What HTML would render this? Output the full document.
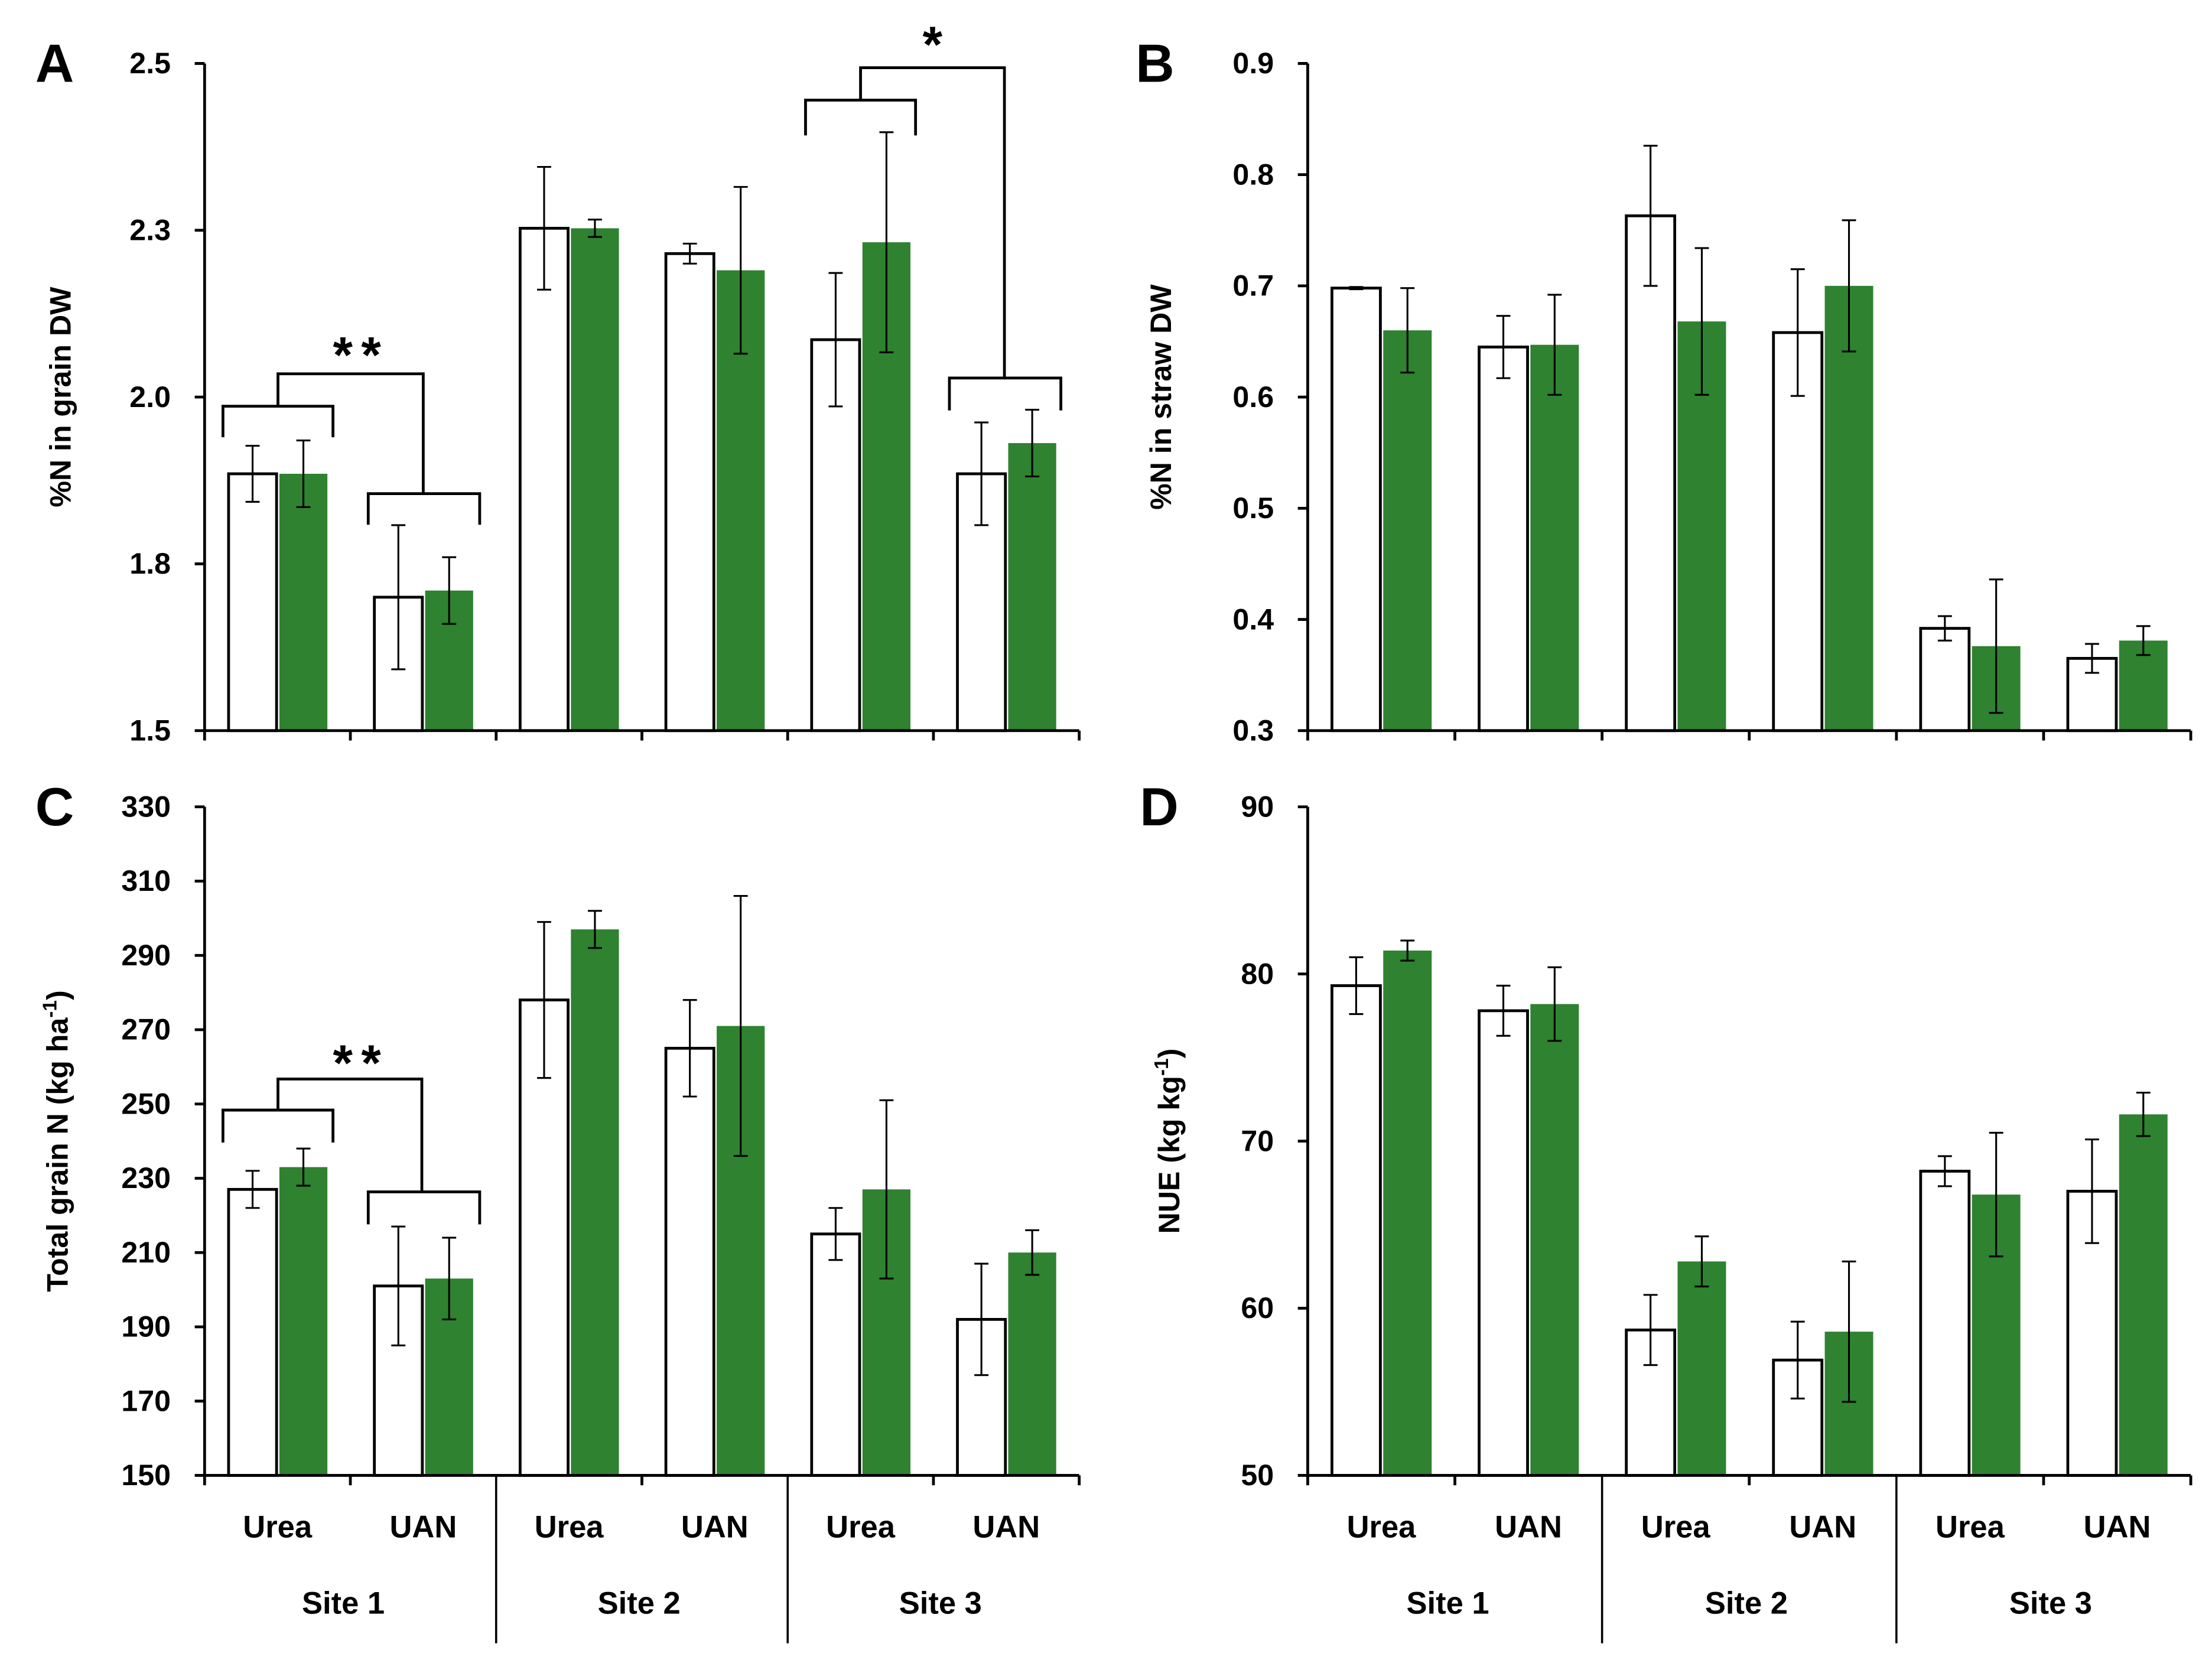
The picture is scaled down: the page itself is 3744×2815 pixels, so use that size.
<!DOCTYPE html>
<html><head><meta charset="utf-8"><style>
html,body{margin:0;padding:0;background:#fff;}
svg{display:block;font-family:"Liberation Sans",sans-serif;}
</style></head><body>
<svg id="chart" width="3744" height="2815" viewBox="0 0 1568 1179" xmlns="http://www.w3.org/2000/svg">
<rect width="1568" height="1179" fill="#fff"/>
</svg>
<script>
const categories = ["Urea","UAN","Urea","UAN","Urea","UAN"];
const sites = ["Site 1","Site 2","Site 3"];
const aWhite=[1.885,1.70,2.253,2.215,2.086,1.885], aWhiteErr=[0.042,0.108,0.092,0.015,0.1,0.077];
const aGreen=[1.885,1.71,2.253,2.19,2.232,1.931], aGreenErr=[0.05,0.05,0.013,0.125,0.165,0.05];
const bWhite=[0.698,0.645,0.763,0.658,0.392,0.365], bWhiteErr=[0.001,0.028,0.063,0.057,0.011,0.013];
const bGreen=[0.66,0.647,0.668,0.70,0.376,0.381], bGreenErr=[0.038,0.045,0.066,0.059,0.06,0.013];
const cWhite=[227,201,278,265,215,192], cWhiteErr=[5,16,21,13,7,15];
const cGreen=[233,203,297,271,227,210], cGreenErr=[5,11,5,35,24,6];
const dWhite=[79.3,77.8,58.7,56.9,68.2,67.0], dWhiteErr=[1.7,1.5,2.1,2.3,0.9,3.1];
const dGreen=[81.4,78.2,62.8,58.6,66.8,71.6], dGreenErr=[0.6,2.2,1.5,4.2,3.7,1.3];
const aTicks=[1.5,1.75,2.0,2.25,2.5], aTickLabels=["1.5","1.8","2.0","2.3","2.5"];
const bTicks=[0.3,0.4,0.5,0.6,0.7,0.8,0.9], bTickLabels=["0.3","0.4","0.5","0.6","0.7","0.8","0.9"];
const cTicks=[150,170,190,210,230,250,270,290,310,330], cTickLabels=cTicks.map(String);
const dTicks=[50,60,70,80,90], dTickLabels=dTicks.map(String);

const NS="http://www.w3.org/2000/svg", svg=document.getElementById('chart');
const GREEN="#2e8230";
function el(tag,attrs,parent,text){const e=document.createElementNS(NS,tag);for(const k in attrs)e.setAttribute(k,attrs[k]);if(text!==undefined)e.textContent=text;(parent||svg).appendChild(e);return e;}

function panel(key,x0,x1,yTop,yBot,min,max,ticks,tickLabels,white,whiteErr,green,greenErr,letter,lx,ly,title,tx,sup,bottom){
  const g=el('g',{});
  
  
  const y=v=>yBot-(v-min)/(max-min)*(yBot-yTop);
  const gw=(x1-x0)/6;
  const xb=i=>x0+i*gw;
  for(let i=0;i<6;i++){
    [[white,whiteErr,'#fff',17,'white'],[green,greenErr,GREEN,53,'green']].forEach(([vals,errs,fill,off,nm])=>{
      const v=vals[i],bx=xb(i)+off*gw/103.3,bw=34*gw/103.3;
      const r=el('rect',{x:bx,y:y(v),width:bw,height:yBot-y(v),fill:fill,stroke:'#000','stroke-width':fill==='#fff'?2:0},g);
      
      
      const cx=bx+bw/2,e=errs[i];
      const p=el('path',{d:`M${cx} ${y(v+e)}V${y(v-e)}M${cx-5} ${y(v+e)}H${cx+5}M${cx-5} ${y(v-e)}H${cx+5}`,stroke:'#000','stroke-width':1.3,fill:'none'},g);
      
      
    });
  }
  const ax=el('path',{d:`M${x0} ${yTop}V${yBot}H${x1}`,stroke:'#000','stroke-width':2,fill:'none'},g);
  
  
  ticks.forEach((t,i)=>{
    el('line',{x1:x0-7,x2:x0,y1:y(t),y2:y(t),stroke:'#000','stroke-width':2},g);
    const tl=el('text',{x:x0-24,y:y(t)+7,'text-anchor':'end','font-size':21,'font-weight':'bold'},g,tickLabels[i]);
    
    
  });
  for(let i=0;i<=6;i++){
    const sep=bottom&&(i===2||i===4);
    el('line',{x1:xb(i),x2:xb(i),y1:yBot,y2:sep?1165:yBot+7,stroke:'#000','stroke-width':sep?1.5:2},g);
  }
  if(bottom){
    categories.forEach((c,i)=>{
      const t=el('text',{x:xb(i)+gw/2,y:1090,'text-anchor':'middle','font-size':22,'font-weight':'bold'},g,c);
      
      
    });
    sites.forEach((s,i)=>{
      const t=el('text',{x:xb(2*i)+gw+(i===0?-5:(i===1?-2:5)),y:1144,'text-anchor':'middle','font-size':22,'font-weight':'bold'},g,s);
      
      
    });
  }
  const L=el('text',{x:lx,y:ly,'font-size':38,'font-weight':'bold'},g,letter);
  
  
  const cy=(yTop+yBot)/2;
  const T=el('text',{x:tx,y:cy,'text-anchor':'middle','font-size':21,'font-weight':'bold',transform:`rotate(-90 ${tx} ${cy})`},g);
  
  
  T.appendChild(document.createTextNode(title));
  if(sup){el('tspan',{'font-size':14,dy:-8},T,sup[0]);el('tspan',{dy:8},T,sup[1]);}
}
function bracket(d){const p=el('path',{d:d,stroke:'#000','stroke-width':2,fill:'none'});}
function star(x,y,s){const t=el('text',{x:x,y:y,'text-anchor':'middle','font-size':36,'font-weight':'bold','letter-spacing':6},svg,s);}

panel('a',145,765,45,518,1.5,2.5,aTicks,aTickLabels,aWhite,aWhiteErr,aGreen,aGreenErr,'A',25,58,'%N in grain DW',50,null,false);
panel('b',927,1553,45,518,0.3,0.9,bTicks,bTickLabels,bWhite,bWhiteErr,bGreen,bGreenErr,'B',805,58,'%N in straw DW',830,null,false);
panel('c',145,765,572,1046,150,330,cTicks,cTickLabels,cWhite,cWhiteErr,cGreen,cGreenErr,'C',25,585,'Total grain N (kg ha',48,['-1',')'],true);
panel('d',927,1553,572,1046,50,90,dTicks,dTickLabels,dWhite,dWhiteErr,dGreen,dGreenErr,'D',808,585,'NUE (kg kg',836,['-1',')'],true);

bracket('M158 310V288H236V310M261 372V350H340V372M197 288V265H300V350');
star(256,264,'**');
bracket('M571 96V71H649V96M673 291V268H752V291M610 71V48H712V268');
star(664,44,'*');
bracket('M158 810V787H236V810M261 868V845H340V868M197 787V765H299V845');
star(256,766,'**');
</script>
</body></html>
